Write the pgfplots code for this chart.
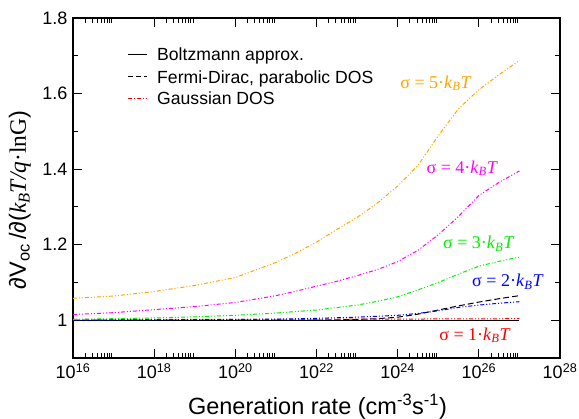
\documentclass[border=0pt]{standalone}
\usepackage{fontspec}
\setmainfont{Liberation Sans}
\newfontfamily\serif{Liberation Serif}
\usepackage{pgfplots}
\pgfplotsset{compat=1.18}
\definecolor{gorange}{RGB}{255,165,0}
\definecolor{gmag}{RGB}{255,0,255}
\definecolor{ggreen}{RGB}{0,240,0}
\definecolor{gblue}{RGB}{0,0,255}
\definecolor{gred}{RGB}{255,0,0}
\tikzset{gdos/.style={line width=1pt, dash pattern=on 4pt off 2pt on 1pt off 2pt on 1pt off 2pt}}
\newcommand{\sig}[1]{{\serif σ = #1·\textit{k}\textsubscript{\textit{B}}\textit{T}}}
\newcommand{\legfont}{\fontsize{17.6}{21}\selectfont}
\begin{document}
\begin{tikzpicture}
\begin{axis}[
  scale only axis, width=487pt, height=340pt,
  xmode=log, xmin=1e16, xmax=1e28, ymin=0.9, ymax=1.8,
  xtick={1e16,1e18,1e20,1e22,1e24,1e26,1e28},
  xticklabels={10\textsuperscript{16},10\textsuperscript{18},10\textsuperscript{20},10\textsuperscript{22},10\textsuperscript{24},10\textsuperscript{26},10\textsuperscript{28}},
  minor xtick={2e16,3e16,4e16,5e16,6e16,7e16,8e16,9e16,
               2e18,3e18,4e18,5e18,6e18,7e18,8e18,9e18,
               2e20,3e20,4e20,5e20,6e20,7e20,8e20,9e20,
               2e22,3e22,4e22,5e22,6e22,7e22,8e22,9e22,
               2e24,3e24,4e24,5e24,6e24,7e24,8e24,9e24,
               2e26,3e26,4e26,5e26,6e26,7e26,8e26,9e26},
  ytick={1,1.2,1.4,1.6,1.8}, yticklabels={1,1.2,1.4,1.6,1.8},
  minor ytick={1.1,1.3,1.5,1.7},
  major tick length=9pt, minor tick length=5pt,
  tick style={black, line width=0.8pt},
  axis line style={line width=1.2pt},
  ticklabel style={font=\fontsize{18}{21}\selectfont},
  xticklabel style={yshift=-2pt},
  yticklabel style={xshift=-2pt},
  xlabel={Generation rate (cm\textsuperscript{-3}s\textsuperscript{-1})},
  ylabel={∂V\textsubscript{oc}\,/∂({\serif\itshape k\textsubscript{B}T/q}{\serif·lnG})},
  every axis x label/.style={at={(axis description cs:0.502,-0.142)}, anchor=center, font=\fontsize{23.5}{28}\selectfont},
  every axis y label/.style={at={(axis description cs:-0.109,0.465)}, anchor=center, rotate=90, font=\fontsize{23.5}{28}\selectfont},
]
\addplot[black, line width=1pt] coordinates {(1e16,1.0) (1e27,1.0)};
\addplot[black, line width=1pt, dash pattern=on 6pt off 3pt] coordinates {
 (1e16,1.000) (1e22,1.000) (1e23,1.002) (3.16e23,1.004) (1e24,1.008) (3.16e24,1.016)
 (1e25,1.027) (3.16e25,1.038) (1e26,1.048) (3.16e26,1.057) (1e27,1.065)};
\addplot[gred, gdos] coordinates {
 (1e16,1.002) (1e20,1.002) (1e24,1.003) (1e27,1.004)};
\addplot[gblue, gdos] coordinates {
 (1e16,1.000) (1e20,1.002) (1e21,1.003) (1e22,1.005) (1e23,1.008) (1e24,1.013)
 (3.16e24,1.018) (1e25,1.025) (3.16e25,1.034) (1e26,1.040) (3.16e26,1.045) (1e27,1.049)};
\addplot[ggreen, gdos] coordinates {
 (1e16,1.002) (1e17,1.004) (1e18,1.006) (1e19,1.009) (1e20,1.013) (1e21,1.019)
 (1e22,1.027) (1e23,1.040) (3.16e23,1.050) (1e24,1.062) (3.16e24,1.080) (1e25,1.100)
 (3.16e25,1.122) (1e26,1.143) (3.16e26,1.156) (1e27,1.167)};
\addplot[gmag, gdos] coordinates {
 (1e16,1.015) (1e17,1.020) (1e18,1.028) (1e19,1.036) (1e20,1.047) (1e21,1.065)
 (3.16e21,1.077) (1e22,1.090) (3.16e22,1.103) (1e23,1.118) (3.16e23,1.134) (1e24,1.155)
 (3.16e24,1.185) (1e25,1.226) (3.16e25,1.275) (1e26,1.330) (3.16e26,1.365) (1e27,1.395)};
\addplot[gorange, gdos] coordinates {
 (1e16,1.058) (1e17,1.064) (1e18,1.076) (1e19,1.092) (1e20,1.113) (1e21,1.153)
 (3.16e21,1.178) (1e22,1.207) (3.16e22,1.240) (1e23,1.272) (3.16e23,1.310) (1e24,1.355)
 (3.16e24,1.410) (1e25,1.488) (3.16e25,1.560) (1e26,1.610) (3.16e26,1.650) (1e27,1.688)};
% legend
\draw[black, line width=1pt] (axis description cs:0.113,0.894) -- (axis description cs:0.152,0.894);
\draw[black, line width=1pt, dash pattern=on 5pt off 3pt] (axis description cs:0.113,0.827) -- (axis description cs:0.152,0.827);
\draw[gred, line width=1pt, dash pattern=on 4pt off 2pt on 1pt off 2pt] (axis description cs:0.113,0.764) -- (axis description cs:0.152,0.764);
\begin{scope}[every node/.style={anchor=base west, inner sep=0pt, font=\legfont}]
\node at (axis description cs:0.1725,0.8755) {Boltzmann approx.};
\node at (axis description cs:0.1725,0.8085) {Fermi-Dirac, parabolic DOS};
\node at (axis description cs:0.1725,0.7455) {Gaussian DOS};
\end{scope}
\begin{scope}[every node/.style={anchor=west, inner sep=0pt, font=\fontsize{18}{21}\selectfont}]
\node[text=gorange] at (axis cs:1.15e24,1.627) {\sig{5}};
\node[text=gmag] at (axis cs:5.1e24,1.402) {\sig{4}};
\node[text=ggreen] at (axis cs:1.3e25,1.203) {\sig{3}};
\node[text=gblue] at (axis cs:6.8e25,1.101) {\sig{2}};
\node[text=gred] at (axis cs:1.05e25,0.960) {\sig{1}};
\end{scope}
\end{axis}
\pgfresetboundingbox
\useasboundingbox (-73pt,-61pt) rectangle (506pt,358pt);
\end{tikzpicture}
\end{document}
